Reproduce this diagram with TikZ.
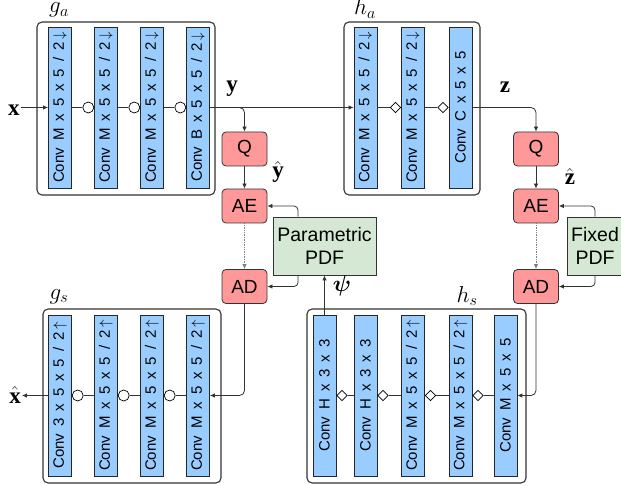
\RequirePackage{fix-cm}
\documentclass[tikz,border=0pt]{standalone}
\usepackage{amsmath, amssymb}
\usepackage[no-math]{fontspec}
\newfontfamily\helv{Liberation Sans}
\newfontfamily\tms{Liberation Serif}
\usepackage{tikz}
\usetikzlibrary{
  positioning,%
  shapes.geometric,%
  arrows.meta
}
\definecolor{convblue}{HTML}{99CCFF}
\definecolor{quantred}{HTML}{FF9999}
\definecolor{pdfgreen}{HTML}{D5E8D4}
\definecolor{linegray}{HTML}{333333}
\tikzset{>={Latex[length=5pt,width=4.5pt]}}
\tikzset{
  group/.style={draw=linegray, line width=1.1pt, rounded corners=5pt},
  conv/.style={draw=black!85, fill=convblue, line width=0.7pt,
    minimum width=23pt, minimum height=161pt, inner sep=0pt,
    font=\helv\fontsize{15}{18}\selectfont},
  gdn/.style={circle, draw=black, fill=white, line width=0.7pt,
    minimum size=11pt, inner sep=0pt},
  diam/.style={diamond, draw=black, fill=white, line width=0.7pt,
    minimum size=10.5pt, inner sep=0pt},
  quant/.style={draw=linegray, fill=quantred, line width=0.8pt,
    rounded corners=4pt, minimum width=45pt, minimum height=34pt,
    font=\helv\fontsize{19}{22}\selectfont},
  pdfbox/.style={draw=linegray, fill=pdfgreen, line width=0.8pt,
    minimum height=58pt, inner sep=0pt, align=center,
    font=\helv\fontsize{19.5}{23}\selectfont},
  lbl/.style={inner sep=1pt, anchor=base, font=\fontsize{23}{26}\selectfont},
  wire/.style={draw=linegray, line width=0.8pt},
}
\newcommand{\convlabel}[1]{\rotatebox{90}{\spaceskip=7pt\relax #1}}
\newcommand{\dn}{\,$\downarrow$}
\newcommand{\up}{\,$\uparrow$}
\newcommand{\sig}[1]{\text{\tms\bfseries #1}}

\begin{document}
\begin{tikzpicture}[x=1pt, y=-1pt]
  \useasboundingbox (0, 0) rectangle (621, 486);
  % group frames
  \draw[group] (37, 22) rectangle (215, 195);
  \draw[group] (344, 22) rectangle (480, 195);
  \draw[group] (43, 309) rectangle (221, 483);
  \draw[group] (307, 309) rectangle (526, 483);
  \node[lbl] (galbl) at (59, 13) {$g_a$};
  \node[lbl] (halbl) at (365, 15) {$h_a$};
  \node[lbl] (gslbl) at (59, 299) {$g_s$};
  \node[lbl] (hslbl) at (467, 302) {$h_s$};

  % analysis transform
  \foreach \i/\x/\t in {1/60/M, 2/106/M, 3/152/M, 4/198/B}
  {
    \node[conv] (ga\i) at (\x, 107.5) {\convlabel{Conv \t{} x 5 x 5 / 2\dn}};
  }
  \foreach \i/\j in {1/2, 2/3, 3/4}
  {
    \node[gdn, left=0pt of ga\j] (gdn\j) {};
    \draw[wire] (ga\i.east) -- (gdn\j);
  }

  % hyper analysis transform
  \foreach \i/\x/\t in {1/365.5/{M x 5 x 5 / 2\dn}, 2/413/{M x 5 x 5 / 2\dn}, 3/460.5/{C x 5 x 5}}
  {
    \node[conv] (ha\i) at (\x, 107.5) {\convlabel{Conv \t}};
  }
  \foreach \i/\j in {1/2, 2/3}
  {
    \node[diam, left=0pt of ha\j] (had\j) {};
    \draw[wire] (ha\i.east) -- (had\j);
  }

  % synthesis transform
  \foreach \i/\x/\t in {1/60/3, 2/106/M, 3/152/M, 4/198/M}
  {
    \node[conv] (gs\i) at (\x, 395.5) {\convlabel{Conv \t{} x 5 x 5 / 2\up}};
  }
  \foreach \i/\j in {1/2, 2/3, 3/4}
  {
    \node[gdn, right=0pt of gs\i] (igdn\i) {};
    \draw[wire] (gs\j.west) -- (igdn\i);
  }

  % hyper synthesis transform
  \foreach \i/\x/\t in {1/324.5/{H x 3 x 3}, 2/365.5/{H x 3 x 3}, 3/413/{M x 5 x 5 / 2\up}, 4/460.5/{M x 5 x 5 / 2\up}, 5/505.5/{M x 5 x 5}}
  {
    \node[conv] (hs\i) at (\x, 395.5) {\convlabel{Conv \t}};
  }
  \foreach \i/\j in {1/2, 2/3, 3/4, 4/5}
  {
    \node[diam, right=0pt of hs\i] (hsd\i) {};
    \draw[wire] (hs\j.west) -- (hsd\i);
  }

  % quantization and entropy coding
  \node[quant] (qa) at (244.5, 149) {Q};
  \node[quant] (aea) at (244.5, 206) {AE};
  \node[quant] (ada) at (244.5, 286.5) {AD};
  \node[quant] (qb) at (536, 149) {Q};
  \node[quant] (aeb) at (536, 206) {AE};
  \node[quant] (adb) at (536, 286.5) {AD};
  \node[pdfbox, minimum width=103pt] (ppdf) at (324.5, 246) {Parametric\\PDF};
  \node[pdfbox, minimum width=56pt] (fpdf) at (595, 246) {Fixed\\PDF};

  % signals
  \node[lbl] (xin) at (14, 116) {$\sig{x}$};
  \node[lbl] (xhat) at (15, 403) {$\hat{\sig{x}}$};
  \node[lbl] (ylbl) at (232, 92) {$\sig{y}$};
  \node[lbl] (yhat) at (278, 178) {$\hat{\sig{y}}$};
  \node[lbl] (zlbl) at (505, 93) {$\sig{z}$};
  \node[lbl] (zhat) at (570, 185) {$\hat{\sig{z}}$};
  \node[lbl] (psilbl) at (342, 291) {$\boldsymbol{\psi}$};

  \draw[wire, ->] (ga1.west -| xin.east) -- (ga1.west);
  \draw[wire, ->] (ga4.east) -- (ha1.west);
  \draw[wire, ->, rounded corners=5pt] (ga4.east) -| (qa.north);
  \draw[wire, ->, rounded corners=5pt] (ha3.east) -| (qb.north);
  \draw[wire, ->] (qa) -- (aea);
  \draw[wire, ->] (qb) -- (aeb);
  \draw[->, gray, densely dotted, line width=0.7pt] (aea) -- (ada);
  \draw[->, gray, densely dotted, line width=0.7pt] (aeb) -- (adb);
  \draw[wire, ->, rounded corners=4pt] ([xshift=-26.5pt]ppdf.north) |- (aea.east);
  \draw[wire, ->, rounded corners=4pt] ([xshift=-26.5pt]ppdf.south) |- (ada.east);
  \draw[wire, ->, rounded corners=4pt] (fpdf.north) |- (aeb.east);
  \draw[wire, ->, rounded corners=4pt] (fpdf.south) |- (adb.east);
  \draw[wire, ->] (hs1.north) -- (ppdf.south);
  \draw[wire, ->, rounded corners=5pt] (ada.south) |- (gs4.east);
  \draw[wire, ->, rounded corners=5pt] (adb.south) |- (hs5.east);
  \draw[wire, ->] (gs1.west) -- (gs1.west -| xhat.east);
\end{tikzpicture}
\end{document}
